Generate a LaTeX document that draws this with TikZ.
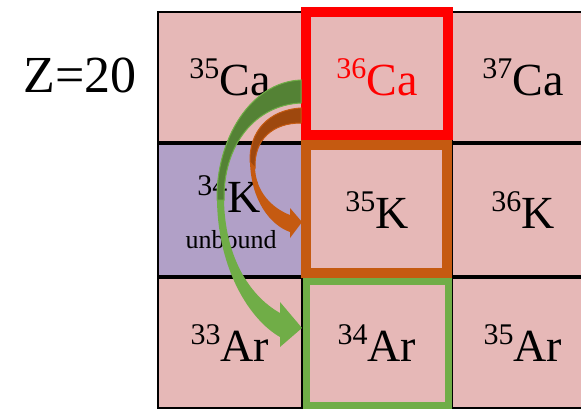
\documentclass[tikz,border=0pt]{standalone}
\usepackage{fontspec}
\setmainfont{Liberation Serif}
\usetikzlibrary{shadows}
\definecolor{cellrose}{HTML}{E6B8B7}
\definecolor{lilac}{HTML}{B1A0C7}
\definecolor{signal}{HTML}{FF0000}
\definecolor{rust}{HTML}{C55A11}
\definecolor{rustdark}{HTML}{9E480E}
\definecolor{leaf}{HTML}{70AD47}
\definecolor{leafdark}{HTML}{548235}
\newcommand{\nuk}[2]{{\fontsize{30}{30}\selectfont\raisebox{17pt}{#1}}#2}

\begin{document}
\begin{tikzpicture}[x=1pt, y=-1pt,
    zelle/.style={draw=black, line width=1.5pt, fill=cellrose, inner sep=0pt,
      drop shadow={shadow xshift=1.5pt, shadow yshift=-1.5pt, fill=black!45, opacity=1},
      font=\fontsize{46}{50}\selectfont},
    breit/.style={minimum width=#1},
    hoch/.style={minimum height=#1}]
    \useasboundingbox (0,0) rectangle (581,409);
    % Kernladung
    \node[font=\fontsize{52}{56}\selectfont, anchor=base] (zlabel) at (80,93) {Z=20};
    % Zellen: Ca
    \node[zelle, breit=144pt, hoch=130pt] (ca35) at (230,77) {\nuk{35}{Ca}};
    \node[zelle, breit=150pt, hoch=130pt, text=signal] (ca36) at (377,77) {\nuk{36}{Ca}};
    \node[zelle, breit=142pt, hoch=130pt] (ca37) at (523,77) {\nuk{37}{Ca}};
    % Zellen: K
    \node[zelle, breit=144pt, hoch=132pt, fill=lilac] (k34) at (230,210) {};
    \node[zelle, breit=150pt, hoch=132pt] (k35) at (377,210) {\nuk{35}{K}};
    \node[zelle, breit=142pt, hoch=132pt] (k36) at (523,210) {\nuk{36}{K}};
    \node[font=\fontsize{46}{50}\selectfont, anchor=base] (k34name) at (229,212) {\nuk{34}{K}};
    \node[font=\fontsize{26}{28}\selectfont, anchor=base] (k34note) at (231,248) {unbound};
    % Zellen: Ar
    \node[zelle, breit=144pt, hoch=130pt] (ar33) at (230,343) {\nuk{33}{Ar}};
    \node[zelle, breit=150pt, hoch=130pt] (ar34) at (377,343) {\nuk{34}{Ar}};
    \node[zelle, breit=142pt, hoch=130pt] (ar35) at (523,343) {\nuk{35}{Ar}};
    % Rahmen
    \draw[signal, line width=10pt] (306,12) rectangle (448,135);
    \draw[rust, line width=10pt] (306,145) rectangle (447,273);
    \draw[leaf, line width=7pt] (306,281.5) rectangle (448.5,405.5);
    % gruener Pfeil: 36Ca -> 34Ar
    \fill[leaf]
      (301,80) .. controls (250,82) and (216,140) .. (217,200)
      .. controls (218,270) and (250,320) .. (280,337)
      -- (280,347) -- (302,328) -- (280,302) -- (280,313)
      .. controls (248,295) and (225,255) .. (224,200)
      .. controls (223,145) and (255,105) .. (301,103) -- cycle;
    \filldraw[fill=leafdark, draw=leaf, line width=1pt]
      (301,80) .. controls (250,82) and (216,140) .. (217,200)
      -- (224,200) .. controls (223,145) and (255,105) .. (301,103) -- cycle;
    % oranger Pfeil: 36Ca -> 35K
    \fill[rust]
      (301,108) .. controls (268,110) and (249,132) .. (250,162)
      .. controls (251,200) and (270,225) .. (290,232)
      -- (290,238) -- (302,222) -- (290,208) -- (290,215)
      .. controls (272,208) and (256,192) .. (255,168)
      .. controls (254,140) and (272,123) .. (301,123) -- cycle;
    \filldraw[fill=rustdark, draw=rust, line width=1pt]
      (301,108) .. controls (268,110) and (249,132) .. (250,162)
      -- (255,168) .. controls (254,140) and (272,123) .. (301,123) -- cycle;
\end{tikzpicture}
\end{document}
